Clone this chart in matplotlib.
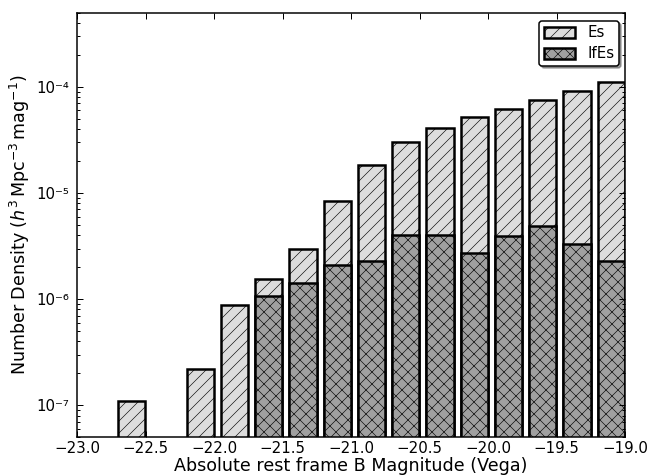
import matplotlib
matplotlib.use("Agg")
import matplotlib.pyplot as plt
from matplotlib.ticker import FixedLocator, FixedFormatter
import numpy as np

# bin right edges (magnitudes) and values
mag_edges = [-22.5, -22.0, -21.75, -21.5, -21.25, -21.0, -20.75, -20.5,
             -20.25, -20.0, -19.75, -19.5, -19.25, -19.0]
es_vals = [1.1e-7, 2.2e-7, 8.8e-7, 1.54e-6, 2.94e-6, 8.5e-6, 1.85e-5, 3.05e-5,
           4.12e-5, 5.2e-5, 6.22e-5, 7.55e-5, 9.1e-5, 1.11e-4]
ifes_edges = [-21.5, -21.25, -21.0, -20.75, -20.5, -20.25, -20.0, -19.75,
              -19.5, -19.25, -19.0]
ifes_vals = [1.08e-6, 1.41e-6, 2.08e-6, 2.29e-6, 4.01e-6, 4.0e-6, 2.74e-6,
             3.96e-6, 4.86e-6, 3.28e-6, 2.29e-6]
xticks = [-23.0, -22.5, -22.0, -21.5, -21.0, -20.5, -20.0, -19.5, -19.0]
yticks = [1e-7, 1e-6, 1e-5, 1e-4]
ytick_labels = ['10\u207b\u2077', '10\u207b\u2076', '10\u207b\u2075', '10\u207b\u2074']

DPI = 72
plt.rcParams['hatch.color'] = '#929292'
plt.rcParams['hatch.linewidth'] = 0.6

fig = plt.figure(figsize=(665 / DPI, 475 / DPI), dpi=DPI)
ax = fig.add_axes([77 / 665, 37.7 / 475, 548 / 665, 424.6 / 475])

bw = 0.2
ax.bar(np.array(mag_edges) - bw / 2, es_vals, width=bw, bottom=1e-9,
       color='#dddddd', edgecolor='black', linewidth=2.5, hatch='//', label='Es')
ax.bar(np.array(ifes_edges) - bw / 2, ifes_vals, width=bw, bottom=1e-9,
       color='#a0a0a0', edgecolor='black', linewidth=2.5, hatch='xx', label='IfEs')

ax.set_yscale('log')
ax.set_xlim(-23.0, -19.0)
ax.set_ylim(5e-8, 5e-4)
ax.set_xticks(xticks)
ax.set_xticklabels(['\u2212%.1f' % abs(v) for v in xticks])
ax.yaxis.set_major_locator(FixedLocator(yticks))
ax.yaxis.set_major_formatter(FixedFormatter(ytick_labels))
ax.tick_params(which='both', direction='in', top=True, right=True)
ax.tick_params(axis='x', labelsize=15, pad=4)
ax.tick_params(axis='y', labelsize=15, pad=8)
ax.tick_params(which='major', length=6, width=1)
ax.tick_params(which='minor', length=3, width=1)
for s in ax.spines.values():
    s.set_linewidth(1.5)

ax.set_xlabel('Absolute rest frame B Magnitude (Vega)', fontsize=17.5, labelpad=1)
ax.set_ylabel(r'Number Density ($h^3\,\mathrm{Mpc}^{-3}\,\mathrm{mag}^{-1}$)',
              fontsize=17.5, labelpad=4)

leg = ax.legend(loc='upper right', fontsize=15, fancybox=True, shadow=True,
                handlelength=2.1, handleheight=0.75, borderpad=0.3,
                labelspacing=0.4, handletextpad=0.8, borderaxespad=0,
                bbox_to_anchor=(0.989, 0.9805))
leg.get_frame().set_edgecolor('black')
leg.get_frame().set_linewidth(1.5)

fig.savefig('out.png', dpi=DPI)
